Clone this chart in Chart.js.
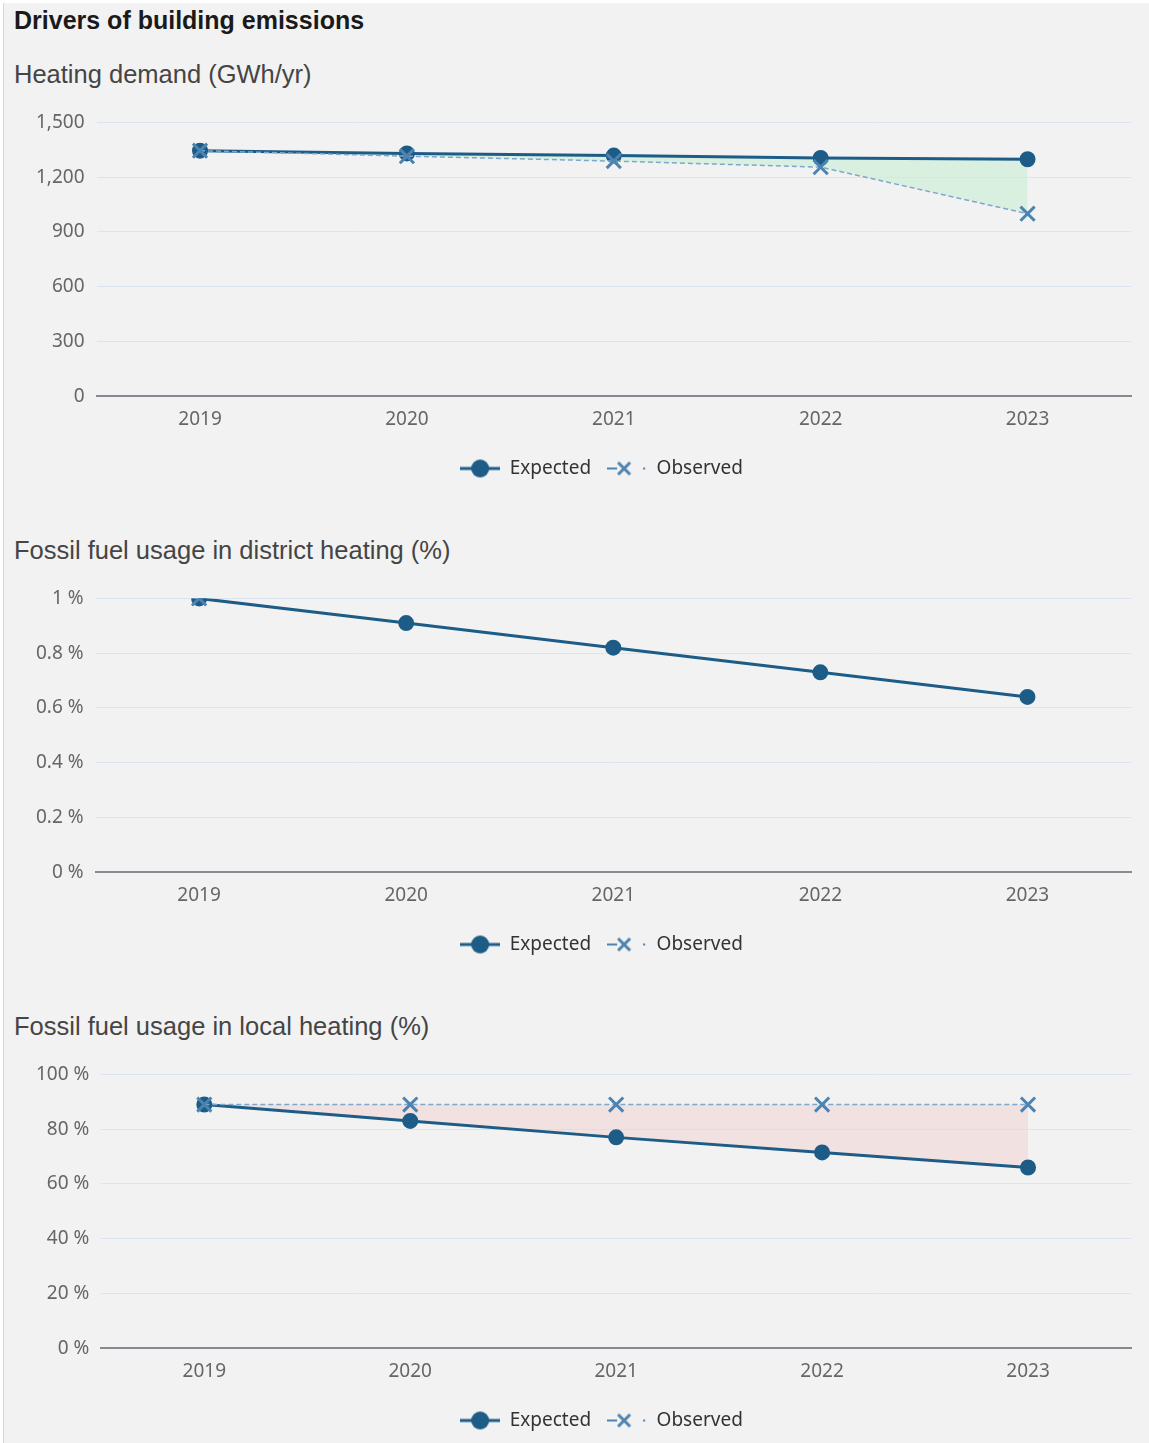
<!DOCTYPE html>
<html>
<head>
<meta charset="utf-8">
<script src="https://cdn.jsdelivr.net/npm/chart.js@4.4.1/dist/chart.umd.min.js"></script>
<style>
  body { margin: 0; background: #fff; }
  .panel {
    position: absolute; left: 3px; top: 3px; width: 1146px; height: 1440px;
    background: #f2f2f2; border-left: 1px solid #c9d8ec; box-sizing: border-box;
    overflow: hidden;
  }
  h1 {
    margin: 0; padding-left: 10px; height: 34px;
    font: bold 25px "Liberation Sans", Arial, sans-serif; line-height: 34px; color: #1a1a1a;
  }
  h2 {
    margin: 13px 0 0; padding-left: 10px; height: 49px;
    font: 25.5px "Liberation Sans", Arial, sans-serif; line-height: 49px; color: #454545;
  }
  .section:not(:first-of-type) h2 { margin-top: 32px; }
  .box { position: relative; height: 395px; }
</style>
</head>
<body>
<div class="panel">
  <h1>Drivers of building emissions</h1>
  <div class="section">
    <h2>Heating demand (GWh/yr)</h2>
    <div class="box"><canvas id="demand"></canvas></div>
  </div>
  <div class="section">
    <h2>Fossil fuel usage in district heating (%)</h2>
    <div class="box"><canvas id="district"></canvas></div>
  </div>
  <div class="section">
    <h2>Fossil fuel usage in local heating (%)</h2>
    <div class="box"><canvas id="local"></canvas></div>
  </div>
</div>
<script>
const years = [`2019`, `2020`, `2021`, `2022`, `2023`];

const demandExpected = [1345, 1330, 1318, 1305, 1298];
const demandObserved = [1345, 1315, 1288, 1255, 1000];

const districtExpected = [1, 0.91, 0.82, 0.73, 0.64];
const districtObserved = [1, null, null, null, null];

const localExpected = [89, 83, 77, 71.5, 66];
const localObserved = [89, 89, 89, 89, 89];

const EXPECTED_COLOR = `#1d5c87`;
const OBSERVED_COLOR = `#4d83b0`;
const FONT_FAMILY = `"Noto Sans", "Open Sans", sans-serif`;

// little line+marker pictures for the legend
const makeLegendIcon = (dashed) => {
  const c = document.createElement(`canvas`);
  c.width = 40;
  c.height = 22;
  const ctx = c.getContext(`2d`);
  if (dashed) {
    ctx.strokeStyle = OBSERVED_COLOR;
    ctx.lineWidth = 2;
    ctx.beginPath();
    ctx.moveTo(0, 11);
    ctx.lineTo(10, 11);
    ctx.stroke();
    ctx.lineWidth = 3;
    ctx.beginPath();
    ctx.moveTo(11, 5);
    ctx.lineTo(23, 17);
    ctx.moveTo(23, 5);
    ctx.lineTo(11, 17);
    ctx.stroke();
    ctx.fillStyle = OBSERVED_COLOR;
    ctx.fillRect(36, 10, 2, 2);
  } else {
    ctx.strokeStyle = EXPECTED_COLOR;
    ctx.lineWidth = 3;
    ctx.beginPath();
    ctx.moveTo(0, 11);
    ctx.lineTo(40, 11);
    ctx.stroke();
    ctx.fillStyle = EXPECTED_COLOR;
    ctx.beginPath();
    ctx.arc(20, 11, 9, 0, Math.PI * 2);
    ctx.fill();
  }
  return c;
};
const expectedIcon = makeLegendIcon(false);
const observedIcon = makeLegendIcon(true);

// the legend in the original sits a bit right of the canvas centre
const legendShift = {
  id: `legendShift`,
  afterLayout(chart) {
    chart.legend.left += 24;
    chart.legend.right += 24;
  }
};

const buildChart = (id, expected, observed, yMax, yStep, fmt) => {
  return new Chart(document.getElementById(id), {
    type: `line`,
    data: {
      labels: years,
      datasets: [{
        label: `Expected`,
        data: expected,
        order: 1,
        borderColor: EXPECTED_COLOR,
        backgroundColor: EXPECTED_COLOR,
        borderWidth: 3,
        pointStyle: `circle`,
        pointRadius: 6.5,
        pointHoverRadius: 6.5,
        fill: false,
        tension: 0
      }, {
        label: `Observed`,
        data: observed,
        order: 0,
        borderColor: `#7ea7cc`,
        backgroundColor: OBSERVED_COLOR,
        pointBorderColor: OBSERVED_COLOR,
        borderWidth: 1.5,
        borderDash: [5, 3],
        pointStyle: `crossRot`,
        pointRadius: 10,
        pointHoverRadius: 10,
        pointBorderWidth: 3,
        spanGaps: false,
        fill: {
          target: 0,
          above: `rgba(242, 205, 205, 0.45)`,
          below: `rgba(200, 238, 212, 0.6)`
        },
        tension: 0
      }]
    },
    plugins: [legendShift],
    options: {
      responsive: true,
      maintainAspectRatio: false,
      animation: false,
      layout: {padding: {left: 20, right: 18, top: 7, bottom: 6}},
      scales: {
        x: {
          offset: true,
          grid: {display: false, drawTicks: false},
          border: {display: true, color: `#868b92`, width: 2},
          ticks: {color: `#666`, font: {family: FONT_FAMILY, size: 19}, padding: 12}
        },
        y: {
          min: 0,
          max: yMax,
          grid: {color: `#dde4f1`, drawTicks: false, lineWidth: 1},
          border: {display: false},
          ticks: {
            stepSize: yStep,
            color: `#666`,
            font: {family: FONT_FAMILY, size: 19},
            padding: 12,
            callback: fmt
          }
        }
      },
      plugins: {
        filler: {drawTime: `beforeDatasetsDraw`},
        legend: {
          position: `bottom`,
          labels: {
            usePointStyle: true,
            pointStyleWidth: 40,
            color: `#333`,
            font: {family: FONT_FAMILY, size: 19},
            padding: 16,
            generateLabels: (chart) => chart.data.datasets.map((ds, i) => ({
              text: ds.label,
              datasetIndex: i,
              pointStyle: i === 0 ? expectedIcon : observedIcon,
              fontColor: `#333`,
              lineWidth: 0,
              strokeStyle: `transparent`,
              fillStyle: `transparent`
            }))
          }
        },
        tooltip: {enabled: false}
      }
    }
  });
};

buildChart(`demand`, demandExpected, demandObserved, 1500, 300,
    (v) => v.toLocaleString(`en-US`));
buildChart(`district`, districtExpected, districtObserved, 1, 0.2,
    (v) => `${Math.round(v * 10) / 10} %`);
buildChart(`local`, localExpected, localObserved, 100, 20,
    (v) => `${v} %`);
</script>
</body>
</html>
